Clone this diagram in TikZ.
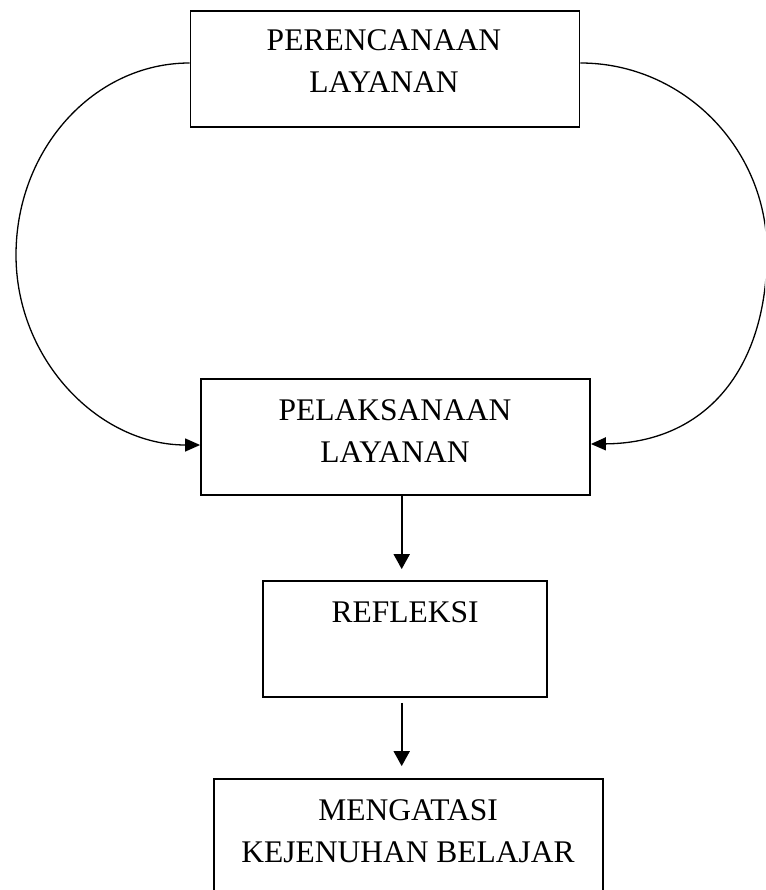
\documentclass[tikz,border=0pt]{standalone}
\usepackage{fontspec}
\setmainfont{Liberation Serif}
\usetikzlibrary{arrows.meta}
\begin{document}
\begin{tikzpicture}[x=1pt,y=-1pt,
  box/.style={draw, line width=1.8pt, rectangle, inner sep=0pt, minimum height=116pt},
  lbl/.style={anchor=base, inner sep=0pt, font=\fontsize{31.5}{42}\selectfont},
  curvearr/.style={line width=1.3pt, -{Triangle[length=15pt,width=13pt]}},
  varr/.style={line width=2pt, -{Triangle[length=15pt,width=16pt]}}]
\useasboundingbox (0,0) rectangle (765,890);
\clip (0,0) rectangle (765,890);
% boxes
\node[box, minimum width=389pt] (b1) at (385,69) {};
\node[box, minimum width=389pt] (b2) at (395.5,437) {};
\node[box, minimum width=284pt] (b3) at (405,639) {};
\node[box, minimum width=389pt] (b4) at (408.5,837) {};
% labels
\node[lbl] (t1a) at (384,51) {PERENCANAAN};
\node[lbl] (t1b) at (384,93) {LAYANAN};
\node[lbl] (t2a) at (395,420) {PELAKSANAAN};
\node[lbl] (t2b) at (395,462) {LAYANAN};
\node[lbl] (t3a) at (405,622) {REFLEKSI};
\node[lbl] (t4a) at (408,820) {MENGATASI};
\node[lbl] (t4b) at (408,862) {KEJENUHAN BELAJAR};
% curved connectors
\draw[curvearr] ([yshift=6pt]b1.west) .. controls (94,63) and (16,149) .. (16,255)
  .. controls (16,360) and (99,445) .. ([yshift=-8pt]b2.west);
\draw[curvearr] ([yshift=6pt]b1.east) .. controls (683,63) and (767,148) .. (767,252)
  .. controls (767,370) and (705,443) .. ([yshift=-7pt]b2.east);
% vertical connectors
\coordinate (cx) at (401.7,0);
\draw[varr] (b2.south -| cx) -- ([yshift=11pt]b3.north -| cx);
\draw[varr] ([yshift=-5pt]b3.south -| cx) -- ([yshift=12pt]b4.north -| cx);
\end{tikzpicture}
\end{document}
